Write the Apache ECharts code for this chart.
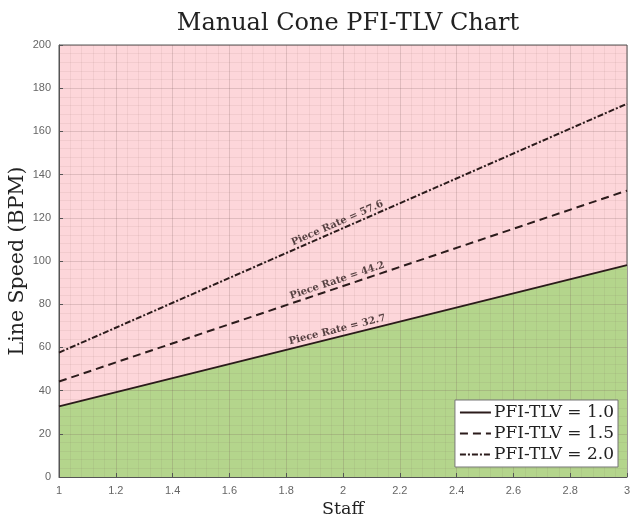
<!DOCTYPE html>
<html>
<head>
<meta charset="utf-8">
<script src="https://cdn.jsdelivr.net/npm/echarts@6/dist/echarts.min.js"></script>
<style>html,body{margin:0;padding:0;background:#fff}#c{width:631px;height:520px}</style>
</head>
<body>
<div id="c"></div>
<script>
const staff = [1, 3];
const tlv10 = [32.7, 98.1];
const tlv15 = [44.2, 132.6];
const tlv20 = [57.6, 172.8];
const seriesNames = ['PFI-TLV = 1.0', 'PFI-TLV = 1.5', 'PFI-TLV = 2.0'];
const pieceRates = [32.7, 44.2, 57.6];
const labelStaff = 1.98;
const xTicks = {min: 1, max: 3, interval: 0.2};
const yTicks = {min: 0, max: 200, interval: 20};

const serif = '"DejaVu Serif", "Liberation Serif", serif';
const lineColor = '#2b1b1b';
const pairs = a => staff.map((s, i) => [s, a[i]]);

const chart = echarts.init(document.getElementById('c'));
const gridL = 59, gridR = 4, gridT = 45, gridB = 43;
const plotW = 631 - gridL - gridR, plotH = 520 - gridT - gridB;
const pxPerX = plotW / (xTicks.max - xTicks.min);
const pxPerY = plotH / (yTicks.max - yTicks.min);

const labelSeries = pieceRates.map((r, i) => {
  const ang = Math.atan(r * pxPerY / pxPerX) * 180 / Math.PI;
  return {
    type: 'scatter', symbolSize: 1, z: 6, silent: true,
    itemStyle: {color: 'rgba(0,0,0,0)'},
    data: [[labelStaff, r * labelStaff + 3.4]],
    label: {
      show: true, position: 'inside', rotate: ang,
      formatter: 'Piece Rate = ' + r,
      fontFamily: serif, fontWeight: 'bold', fontSize: 10, color: '#2a1a1a'
    }
  };
});

const axisCommon = {
  z: 3,
  nameMoveOverlap: false,
  axisLine: {show: true, lineStyle: {color: '#555', width: 1}},
  axisTick: {show: true, inside: true, length: 4, lineStyle: {color: '#555'}},
  minorTick: {show: false, splitNumber: 5},
  splitLine: {show: true, lineStyle: {color: 'rgba(110,80,80,0.2)', width: 1}},
  minorSplitLine: {show: true, lineStyle: {color: 'rgba(110,80,80,0.08)', width: 1}},
  axisLabel: {color: '#666', fontSize: 11, fontFamily: 'Arial, "Liberation Sans", sans-serif'}
};

chart.setOption({
  animation: false,
  backgroundColor: '#fff',
  title: {
    text: 'Manual Cone PFI-TLV Chart', left: 343, top: 7, textAlign: 'center',
    textStyle: {fontFamily: serif, fontWeight: 'normal', fontSize: 24, color: '#222'}
  },
  grid: {left: gridL, right: gridR, top: gridT, bottom: gridB, show: true,
         containLabel: false, outerBoundsMode: 'none',
         backgroundColor: '#fdd6da', borderColor: '#555', borderWidth: 1},
  legend: {
    data: seriesNames, orient: 'vertical', right: 13, bottom: 53,
    backgroundColor: '#fff', borderColor: '#777', borderWidth: 1,
    padding: [4, 4, 4, 4], itemGap: 4, itemWidth: 31, itemHeight: 16,
    itemStyle: {opacity: 0},
    textStyle: {fontFamily: serif, fontSize: 17, color: '#222', padding: [0, 0, 0, -2]}
  },
  xAxis: Object.assign({}, axisCommon, {
    type: 'value', min: xTicks.min, max: xTicks.max, interval: xTicks.interval,
    name: 'Staff', nameLocation: 'middle', nameGap: 23,
    nameTextStyle: {fontFamily: serif, fontSize: 17.5, color: '#222'}
  }),
  yAxis: Object.assign({}, axisCommon, {
    type: 'value', min: yTicks.min, max: yTicks.max, interval: yTicks.interval,
    name: 'Line Speed (BPM)', nameLocation: 'middle', nameGap: 31,
    nameTextStyle: {fontFamily: serif, fontSize: 20.5, color: '#222'}
  }),
  series: [
    {
      name: 'area', type: 'line', data: pairs(tlv10), symbol: 'none', z: 1,
      lineStyle: {width: 0}, areaStyle: {color: '#b4d58c', opacity: 1},
      silent: true
    },
    {
      name: seriesNames[0], type: 'line', data: pairs(tlv10), symbol: 'none', z: 5,
      lineStyle: {color: lineColor, width: 2, type: 'solid'}, itemStyle: {color: lineColor}
    },
    {
      name: seriesNames[1], type: 'line', data: pairs(tlv15), symbol: 'none', z: 5,
      lineStyle: {color: lineColor, width: 2, type: [8, 5]}, itemStyle: {color: lineColor}
    },
    {
      name: seriesNames[2], type: 'line', data: pairs(tlv20), symbol: 'none', z: 5,
      lineStyle: {color: lineColor, width: 2, type: [6, 2, 2, 2]}, itemStyle: {color: lineColor}
    }
  ].concat(labelSeries)
});
</script>
</body>
</html>
